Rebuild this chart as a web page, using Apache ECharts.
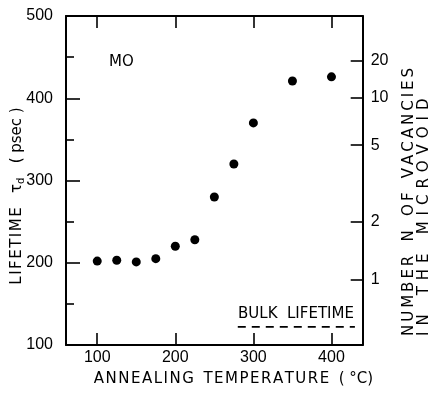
<!DOCTYPE html>
<html>
<head>
<meta charset="utf-8">
<script src="https://cdn.jsdelivr.net/npm/echarts@6/dist/echarts.min.js"></script>
<style>
  html, body { margin: 0; padding: 0; background: #fff; }
  #chart { width: 435px; height: 393px; }
</style>
</head>
<body>
<div id="chart"></div>
<script>
// Annealing temperature (°C) and measured microvoid lifetime (psec)
const temperatures = [100, 125, 150, 175, 200, 225, 250, 275, 300, 350, 400];
const lifetimes    = [202, 203, 201, 205, 220, 228, 280, 320, 370, 421, 426];

// Bulk lifetime reference level and its temperature span
const bulkLifetime = 122;
const bulkSpan = [280, 430];

// Axis tick values
const temperatureTicks = [100, 200, 300, 400];
// Vacancy-number scale on the right: label and the lifetime it corresponds to
const vacancyLabels    = ['1', '2', '5', '10', '20'];
const vacancyLifetimes = [179, 250, 343, 401, 446];

const INK = '#000';
const FONT = 'DejaVu Sans';
const NUM_FONT = '"Liberation Sans", Arial';

// widen letter spacing: n hair spaces between letters, k plain spaces between words
function spaced(str, n, k) {
  return str.split(' ')
    .map(w => w.split('').join('\u200A'.repeat(n)))
    .join(' '.repeat(k));
}

const chart = echarts.init(document.getElementById('chart'), null, { renderer: 'canvas' });

const axisLine = { show: true, lineStyle: { color: INK, width: 2 } };
const tickStyle = { color: INK, width: 1.6 };
const numLabel = { color: INK, fontFamily: NUM_FONT, fontSize: 16 };

chart.setOption({
  animation: false,
  backgroundColor: '#fff',
  grid: { left: 66, right: 72.3, top: 16, bottom: 48, containLabel: false },
  xAxis: [
    {
      type: 'value', position: 'bottom', min: 60, max: 440,
      axisLine,
      splitLine: { show: false },
      axisTick: { show: true, inside: true, length: 12, lineStyle: tickStyle, customValues: temperatureTicks },
      axisLabel: Object.assign({ margin: 5, customValues: temperatureTicks }, numLabel)
    },
    {
      type: 'value', position: 'top', min: 60, max: 440,
      axisLine,
      splitLine: { show: false },
      axisTick: { show: true, inside: true, length: 12, lineStyle: tickStyle, customValues: temperatureTicks },
      axisLabel: { show: false }
    }
  ],
  yAxis: [
    {
      type: 'value', position: 'left', min: 100, max: 500, interval: 100,
      axisLine,
      splitLine: { show: false },
      axisTick: { show: true, inside: true, length: 14, lineStyle: tickStyle },
      minorTick: { show: true, splitNumber: 2, length: 8, lineStyle: tickStyle },
      axisLabel: Object.assign({ margin: 13 }, numLabel)
    },
    {
      type: 'value', position: 'right', min: 100, max: 500,
      axisLine,
      splitLine: { show: false },
      axisTick: { show: true, inside: true, length: 12, lineStyle: tickStyle, customValues: vacancyLifetimes },
      axisLabel: Object.assign({
        margin: 8,
        customValues: vacancyLifetimes,
        formatter: v => vacancyLabels[vacancyLifetimes.indexOf(v)]
      }, numLabel)
    }
  ],
  series: [
    {
      name: 'lifetime',
      type: 'scatter',
      xAxisIndex: 0, yAxisIndex: 0,
      symbol: 'circle', symbolSize: 9,
      itemStyle: { color: INK, opacity: 1 },
      data: temperatures.map((t, i) => [t, lifetimes[i]])
    },
    {
      name: 'bulk',
      type: 'line',
      xAxisIndex: 0, yAxisIndex: 0,
      symbol: 'none',
      lineStyle: { color: INK, width: 1.6, type: [8, 6] },
      data: bulkSpan.map(t => [t, bulkLifetime])
    }
  ],
  graphic: [
    {
      type: 'text', x: 109, y: 62,
      style: { text: 'MO', font: '15px ' + FONT, fill: INK, align: 'left', verticalAlign: 'middle' }
    },
    {
      type: 'text', x: 238, y: 314,
      style: { text: spaced('BULK LIFETIME', 0, 2), font: '15px ' + FONT, fill: INK, align: 'left', verticalAlign: 'middle' }
    },
    {
      type: 'text', x: 233.5, y: 379,
      style: { text: spaced('ANNEALING TEMPERATURE', 1, 2) + '  ( °C)', font: '15px ' + FONT, fill: INK, align: 'center', verticalAlign: 'middle' }
    },
    {
      type: 'text', x: 17, y: 196, rotation: Math.PI / 2,
      style: {
        text: '{a|' + spaced('LIFETIME', 1, 1) + '   τ}{s|d}{a|   ( psec )}',
        fill: INK, align: 'center', verticalAlign: 'middle',
        rich: {
          a: { fontFamily: FONT, fontSize: 15, fill: INK },
          s: { fontFamily: FONT, fontSize: 10, fill: INK, padding: [8, 0, 0, 0] }
        }
      }
    },
    {
      type: 'text', x: 416.5, y: 336, rotation: Math.PI / 2,
      style: {
        text: spaced('NUMBER N OF VACANCIES', 2, 3) + '\n' + spaced('IN THE MICROVOID', 4, 4),
        font: '15px ' + FONT, fill: INK, align: 'left', verticalAlign: 'middle', lineHeight: 15
      }
    }
  ]
});
</script>
</body>
</html>
